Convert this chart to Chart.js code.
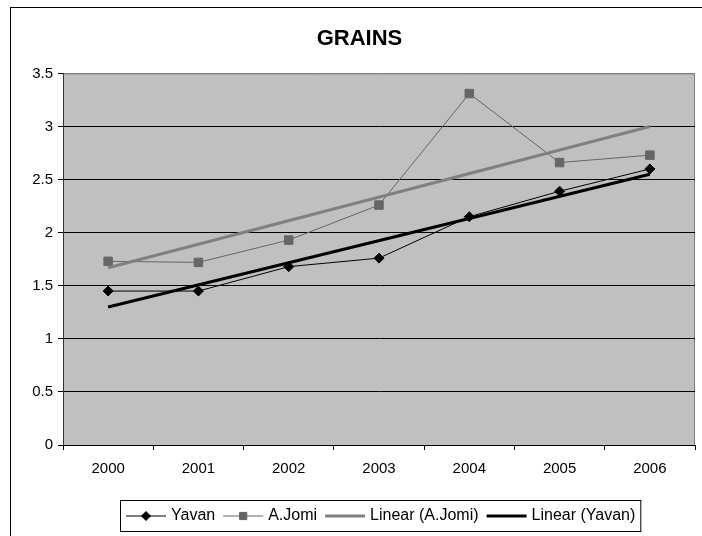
<!DOCTYPE html>
<html>
<head>
<meta charset="utf-8">
<script src="https://cdn.jsdelivr.net/npm/chart.js@4/dist/chart.umd.min.js"></script>
<style>
  html, body { margin: 0; padding: 0; background: #fff; }
  canvas { display: block; }
</style>
</head>
<body>
<canvas id="grainsChart" width="702" height="536"></canvas>
<script>
// values
const years = ['2000', '2001', '2002', '2003', '2004', '2005', '2006'];
const yavan = [1.45, 1.45, 1.68, 1.76, 2.15, 2.39, 2.60];
const aJomi = [1.73, 1.72, 1.93, 2.26, 3.31, 2.66, 2.73];
// trendlines: only the two ends are read, the line spans the gaps
const linearJomi = [1.67, null, null, null, null, null, 3.0];
const linearYavan = [1.30, null, null, null, null, null, 2.55];
const yTicks = [0, 0.5, 1, 1.5, 2, 2.5, 3, 3.5];

const FONT = 'Liberation Sans, Arial, sans-serif';

// gray plot area + outer frame
const backdrop = {
  id: 'backdrop',
  beforeDraw(chart) {
    const ctx = chart.ctx;
    const a = chart.chartArea;
    ctx.save();
    ctx.fillStyle = '#fff';
    ctx.fillRect(0, 0, chart.width, chart.height);
    ctx.strokeStyle = '#000';
    ctx.lineWidth = 1;
    ctx.strokeRect(10.5, 7.5, 900, 900);
    ctx.fillStyle = '#c0c0c0';
    ctx.fillRect(a.left, a.top, a.right - a.left, a.bottom - a.top);
    ctx.strokeStyle = '#808080';
    ctx.beginPath();
    ctx.moveTo(a.left, a.top + 0.5);
    ctx.lineTo(a.right - 0.5, a.top + 0.5);
    ctx.lineTo(a.right - 0.5, a.bottom);
    ctx.stroke();
    ctx.restore();
  }
};

// Excel-like legend box under the chart
const boxLegend = {
  id: 'boxLegend',
  afterDraw(chart) {
    const ctx = chart.ctx;
    const sets = chart.data.datasets;
    ctx.save();
    ctx.font = '16px ' + FONT;
    const lineLen = 40, gap = 5, itemGap = 8, padL = 6, padR = 5;
    let total = padL + padR;
    sets.forEach((ds, i) => {
      total += lineLen + gap + ctx.measureText(ds.label).width;
      if (i < sets.length - 1) total += itemGap;
    });
    const boxTop = 500, boxH = 31;
    const boxLeft = Math.round(380 - total / 2);
    ctx.fillStyle = '#fff';
    ctx.fillRect(boxLeft, boxTop, total, boxH);
    ctx.strokeStyle = '#000';
    ctx.lineWidth = 1;
    ctx.strokeRect(boxLeft + 0.5, boxTop + 0.5, total, boxH);
    const cy = boxTop + boxH / 2 + 0.5;
    let x = boxLeft + padL;
    sets.forEach(ds => {
      ctx.strokeStyle = ds.borderColor;
      ctx.lineWidth = ds.borderWidth;
      ctx.beginPath();
      ctx.moveTo(x, cy);
      ctx.lineTo(x + lineLen, cy);
      ctx.stroke();
      if (ds.pointRadius > 0) {
        ctx.fillStyle = ds.pointBackgroundColor;
        ctx.strokeStyle = ds.pointBorderColor;
        ctx.lineWidth = 1;
        const r = ds.pointStyle === 'rect' ? ds.pointRadius * 0.85 : ds.pointRadius * 0.9;
        Chart.helpers.drawPoint(ctx, {pointStyle: ds.pointStyle, rotation: 0, borderWidth: 1, radius: r}, x + lineLen / 2, cy);
      }
      x += lineLen + gap;
      ctx.fillStyle = '#000';
      ctx.textBaseline = 'middle';
      ctx.textAlign = 'left';
      ctx.fillText(ds.label, x, cy);
      x += ctx.measureText(ds.label).width + itemGap;
    });
    ctx.restore();
  }
};

new Chart(document.getElementById('grainsChart'), {
  type: 'line',
  data: {
    labels: years,
    datasets: [
      {
        label: 'Yavan',
        data: yavan,
        borderColor: '#000',
        borderWidth: 1,
        pointStyle: 'rectRot',
        pointRadius: 5,
        pointBackgroundColor: '#000',
        pointBorderColor: '#000',
        pointBorderWidth: 1,
        tension: 0,
        order: 2
      },
      {
        label: 'A.Jomi',
        data: aJomi,
        borderColor: '#666666',
        borderWidth: 1,
        pointStyle: 'rect',
        pointRadius: 6,
        pointBackgroundColor: '#666666',
        pointBorderColor: '#666666',
        pointBorderWidth: 1,
        tension: 0,
        order: 3
      },
      {
        label: 'Linear (A.Jomi)',
        data: linearJomi,
        borderColor: '#808080',
        borderWidth: 3,
        pointRadius: 0,
        spanGaps: true,
        tension: 0,
        order: 1
      },
      {
        label: 'Linear (Yavan)',
        data: linearYavan,
        borderColor: '#000',
        borderWidth: 3,
        pointRadius: 0,
        spanGaps: true,
        tension: 0,
        order: 0
      }
    ]
  },
  options: {
    responsive: false,
    animation: false,
    devicePixelRatio: 1,
    layout: { padding: { left: 20, right: 3, top: 0, bottom: 61 } },
    plugins: {
      legend: { display: false },
      tooltip: { enabled: false },
      title: {
        display: true,
        text: 'GRAINS',
        color: '#000',
        font: { family: FONT, size: 22, weight: 'bold' },
        padding: { top: 26, bottom: 21 }
      }
    },
    scales: {
      x: {
        type: 'category',
        offset: true,
        afterFit(scale) {
          scale.height = 30;
          scale.paddingLeft = 0;
          scale.paddingRight = 0;
        },
        grid: {
          offset: true,
          drawOnChartArea: false,
          color: '#000',
          tickLength: 5,
          lineWidth: 1
        },
        border: { color: '#000', width: 1 },
        ticks: {
          color: '#000',
          font: { family: FONT, size: 15 },
          padding: 10,
          maxRotation: 0
        }
      },
      y: {
        min: 0,
        max: 3.5,
        afterFit(scale) { scale.width = 43; },
        afterBuildTicks(scale) { scale.ticks = yTicks.map(v => ({ value: v })); },
        grid: {
          color: ctx => (ctx.tick && ctx.tick.value === 3.5 ? '#808080' : '#000'),
          tickColor: '#000',
          tickLength: 5,
          lineWidth: 1
        },
        border: { color: '#333', width: 1 },
        ticks: {
          color: '#000',
          font: { family: FONT, size: 15 },
          padding: 5,
          callback: value => String(value)
        }
      }
    }
  },
  plugins: [backdrop, boxLegend]
});
</script>
</body>
</html>
